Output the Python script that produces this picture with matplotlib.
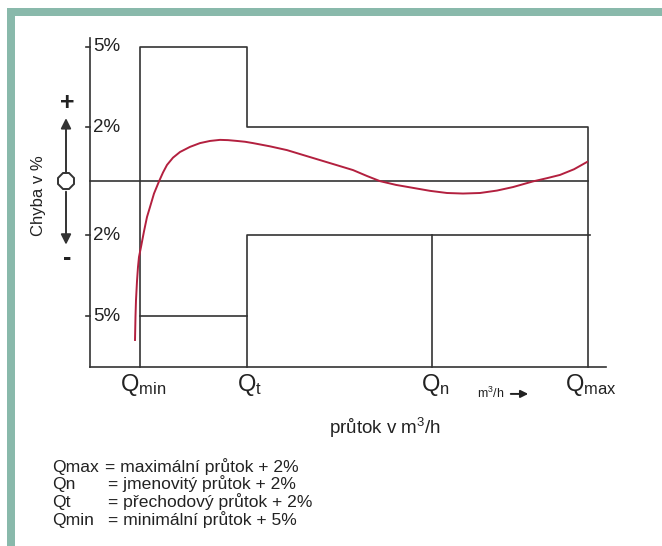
import matplotlib
matplotlib.use("Agg")
import matplotlib.pyplot as plt
from matplotlib.patches import Rectangle

plt.rcParams['font.family'] = ['Liberation Sans', 'DejaVu Sans']
plt.rcParams['mathtext.fontset'] = 'custom'
plt.rcParams['mathtext.rm'] = 'Liberation Sans'
plt.rcParams['mathtext.it'] = 'Liberation Sans'

# ---- data ----
q_labels = ["Q$_{\\mathrm{min}}$", "Q$_{\\mathrm{t}}$", "Q$_{\\mathrm{n}}$", "Q$_{\\mathrm{max}}$"]
q_pos = [50, 157, 342, 498]          # flow positions (arbitrary units)
upper_limits = [5, 2]                 # % : Qmin-Qt, Qt-Qmax
lower_limits = [-5, -2]               # % : Qmin-Qt, Qt-Qmax
tick_vals = [5, 2, -2, -5]
tick_labels = ["5%", "2%", "2%", "5%"]

curve_x = [45, 45.5, 46, 47, 48, 49, 51, 54, 57, 60, 64, 69, 73, 77, 83, 90, 100, 110,
           120, 130, 138, 147, 155, 163, 180, 197, 213, 230, 247, 263, 277, 290, 306,
           323, 340, 357, 373, 390, 407, 423, 443, 457, 470, 484, 497]
curve_y = [-5.88, -5.0, -4.40, -3.7, -3.17, -2.8, -2.43, -1.85, -1.32, -0.95, -0.45, 0.0,
           0.33, 0.61, 0.88, 1.09, 1.28, 1.42, 1.50, 1.54, 1.53, 1.50, 1.47, 1.42, 1.30,
           1.16, 0.98, 0.79, 0.60, 0.42, 0.20, 0.01, -0.13, -0.24, -0.35, -0.43, -0.45,
           -0.43, -0.34, -0.21, 0.0, 0.12, 0.24, 0.45, 0.72]

legend_names = ["Qmax", "Qn", "Qt", "Qmin"]
legend_texts = ["= maximální průtok + 2%", "= jmenovitý průtok + 2%",
                "= přechodový průtok + 2%", "= minimální průtok + 5%"]

# ---- layout ----
W, H = 662, 546
PX_PER_PCT = 26.97
Y0_PX = 181.4
X0_PX = 90
fig = plt.figure(figsize=(W / 100, H / 100), dpi=100)
fig.patch.set_facecolor('white')
ax = fig.add_axes([0, 0, 1, 1])
ax.set_xlim(-X0_PX, W - X0_PX)
ax.set_ylim((Y0_PX - H) / PX_PER_PCT, Y0_PX / PX_PER_PCT)
ax.axis('off')

green = '#89b9ab'
fig.patches.append(Rectangle((7 / W, 1 - 16 / H), 1, 8 / H, transform=fig.transFigure,
                             facecolor=green, edgecolor='none'))
fig.patches.append(Rectangle((7 / W, 0), 8 / W, 1 - 8 / H, transform=fig.transFigure,
                             facecolor=green, edgecolor='none'))

lc = '#333333'
lw = 1.2
bottom = -6.9
top = 5.32
x_end = 516

# axes
ax.plot([0, x_end], [bottom, bottom], color=lc, lw=lw)
ax.plot([0, 0], [bottom, top], color=lc, lw=lw)
for v, lab in zip(tick_vals, tick_labels):
    ax.plot([-4, 0], [v, v], color=lc, lw=lw)
    ax.text(3, v, lab, ha='left', va='center', fontsize=13.5, color='#222222')

qmin, qt, qn, qmax = q_pos
# zero line
ax.plot([0, qmax], [0, 0], color=lc, lw=lw)
# upper envelope
ax.plot([qmin, qmin, qt, qt, qmax, qmax],
        [bottom, upper_limits[0], upper_limits[0], upper_limits[1], upper_limits[1], bottom],
        color=lc, lw=lw)
# lower envelope
ax.plot([qmin, qt], [lower_limits[0], lower_limits[0]], color=lc, lw=lw)
ax.plot([qt, qt, qmax + 2], [bottom, lower_limits[1], lower_limits[1]], color=lc, lw=lw)
ax.plot([qn, qn], [lower_limits[1], bottom], color=lc, lw=lw)

# error curve
ax.plot(curve_x, curve_y, color='#b3203f', lw=1.4)

# Q labels
for p, lab in zip(q_pos, q_labels):
    ax.text(p + 3, -7.05, lab, ha='center', va='top', fontsize=17, color='#222222')

ax.text(387, -7.85, "m$^3$/h", ha='left', va='center', fontsize=9, color='#222222')
ax.annotate("", xy=(441, -7.88), xytext=(418, -7.88),
            arrowprops=dict(arrowstyle='-|>', color='#222222', lw=1.4, mutation_scale=11))

ax.text(295, -9.14, "průtok v m$^3$/h", ha='center', va='center', fontsize=13.5,
        color='#222222')

# left indicator
ax.text(-52, -0.54, "Chyba v %", rotation=90, ha='center', va='center', fontsize=12,
        color='#222222')
ax.text(-23, 2.9, "+", ha='center', va='center', fontsize=18, fontweight='bold',
        color='#222222')
ax.text(-23, -2.85, "-", ha='center', va='center', fontsize=18, fontweight='bold',
        color='#222222')
ax.annotate("", xy=(-24, 2.45), xytext=(-24, 0.24),
            arrowprops=dict(arrowstyle='-|>', color='#333333', lw=1.4, mutation_scale=15))
ax.annotate("", xy=(-24, -2.45), xytext=(-24, -0.28),
            arrowprops=dict(arrowstyle='-|>', color='#333333', lw=1.4, mutation_scale=15))
ax.plot([-24.5], [0], marker='8', markersize=12, markerfacecolor='white',
        markeredgecolor='#333333', markeredgewidth=1.4)

# legend text
for i, (n, t) in enumerate(zip(legend_names, legend_texts)):
    y = 1 - (472 + 17.5 * i) / H
    fig.text(52 / W, y, n, ha='left', va='baseline', fontsize=12.6, color='#222222')
    fig.text((105 + (i > 0) * 3) / W, y, t, ha='left', va='baseline', fontsize=12.6,
             color='#222222')

fig.savefig("out.png", dpi=100, facecolor='white')
